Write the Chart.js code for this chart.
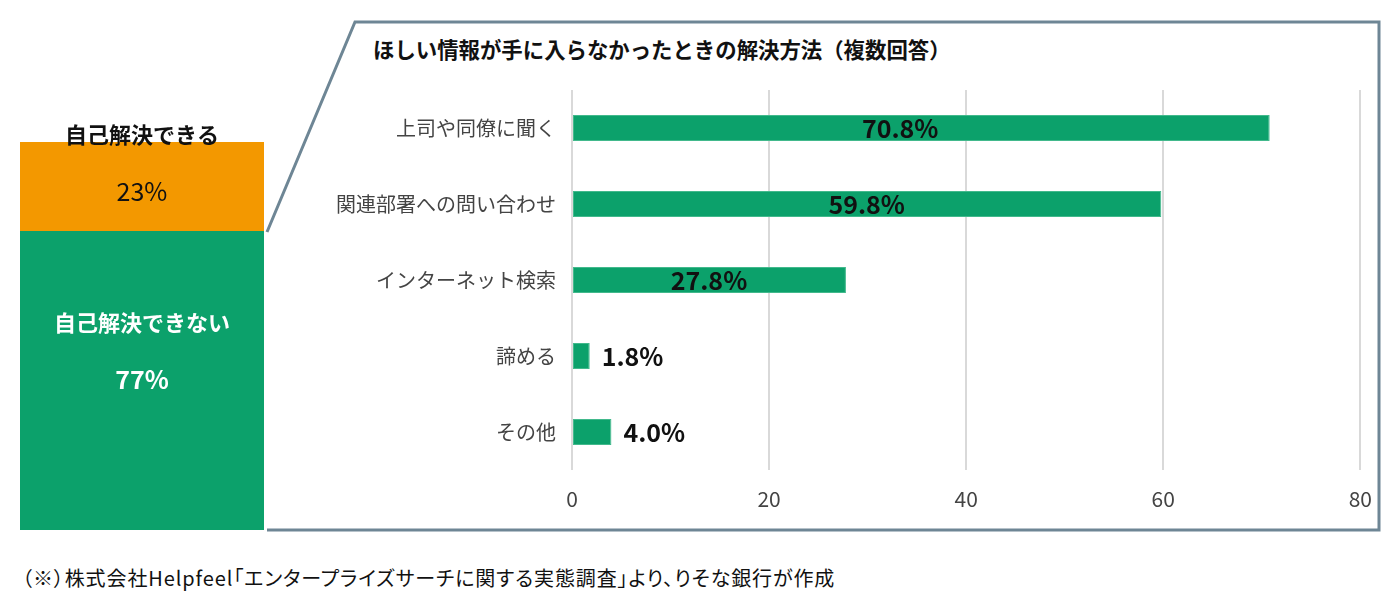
<!DOCTYPE html>
<html>
<head>
<meta charset="utf-8">
<script src="https://cdn.jsdelivr.net/npm/chart.js@4.4.0/dist/chart.umd.min.js"></script>
<style>
  body { margin:0; background:#fff; width:1400px; height:598px; position:relative; overflow:hidden;
         font-family:"Noto Sans CJK JP","Noto Sans",sans-serif; }
  #leftBox { position:absolute; left:20px; top:110px; width:244px; height:420px; }
  #rightBox { position:absolute; left:270px; top:70px; width:1118px; height:450px; }
  #title { position:absolute; left:373px; top:33px; font-size:21.4px; font-weight:bold; color:#111; white-space:nowrap; }
  #note { position:absolute; left:22px; top:563px; font-size:20px; letter-spacing:0.9px; color:#111; white-space:nowrap;
          font-feature-settings:"palt"; }
  svg { position:absolute; left:0; top:0; }
</style>
</head>
<body>
<svg width="1400" height="598">
  <polyline points="267,232 355,22 1379,22 1379,530 267,530" fill="none" stroke="#6e8695" stroke-width="3"/>
</svg>
<div id="title">ほしい情報が手に入らなかったときの解決方法（複数回答）</div>
<div id="leftBox"><canvas id="leftChart"></canvas></div>
<div id="rightBox"><canvas id="rightChart"></canvas></div>
<div id="note">（※）株式会社Helpfeel「エンタープライズサーチに関する実態調査」より、りそな銀行が作成</div>
<script>
// left column: share of people who could solve it themselves
var splitLabels = ['自己解決できない', '自己解決できる'];
var splitValues = [77, 23];

// right chart: how they solved it (multiple answers)
var categories = ['上司や同僚に聞く', '関連部署への問い合わせ', 'インターネット検索', '諦める', 'その他'];
var shares = [70.8, 59.8, 27.8, 1.8, 4.0];
var xTicks = [0, 20, 40, 60, 80];

var GREEN = '#0ca16b';
var ORANGE = '#f39800';
var JP = '"Noto Sans CJK JP", "Noto Sans", sans-serif';

var leftLabels = {
    id: 'leftLabels',
    afterDatasetsDraw: function(chart) {
        var ctx = chart.ctx;
        var low = chart.getDatasetMeta(0).data[0];
        var high = chart.getDatasetMeta(1).data[0];
        ctx.save();
        ctx.textAlign = 'center';
        ctx.textBaseline = 'middle';
        // top label sits on the orange block's upper edge
        ctx.fillStyle = '#111';
        ctx.font = 'bold 22px ' + JP;
        ctx.fillText(splitLabels[1], high.x, high.y - 7);
        ctx.font = '25px ' + JP;
        ctx.fillText(splitValues[1] + '%', high.x, (high.y + high.base) / 2 + 5);
        // green block
        var mid = (low.y + low.base) / 2;
        ctx.fillStyle = '#fff';
        ctx.font = 'bold 22px ' + JP;
        ctx.fillText(splitLabels[0], low.x, mid - 58);
        ctx.font = 'bold 25px ' + JP;
        ctx.fillText(splitValues[0] + '%', low.x, mid - 1);
        ctx.restore();
    }
};

new Chart(document.getElementById('leftChart'), {
    type: 'bar',
    data: {
        labels: [''],
        datasets: [
            { label: splitLabels[0], data: [splitValues[0]], backgroundColor: GREEN, borderWidth: 0 },
            { label: splitLabels[1], data: [splitValues[1]], backgroundColor: ORANGE, borderWidth: 0 }
        ]
    },
    options: {
        responsive: true,
        maintainAspectRatio: false,
        animation: false,
        layout: { padding: { top: 32, bottom: 0, left: 0, right: 0 } },
        plugins: { legend: { display: false }, tooltip: { enabled: false } },
        scales: {
            x: { stacked: true, display: false },
            y: { stacked: true, display: false, min: 0, max: 100 }
        },
        datasets: { bar: { barPercentage: 1, categoryPercentage: 1 } }
    },
    plugins: [leftLabels]
});

var barLabels = {
    id: 'barLabels',
    afterDatasetsDraw: function(chart) {
        var ctx = chart.ctx;
        var xs = chart.scales.x;
        var meta = chart.getDatasetMeta(0);
        ctx.save();
        ctx.fillStyle = '#111';
        ctx.font = 'bold 25px ' + JP;
        ctx.textBaseline = 'middle';
        meta.data.forEach(function(bar, i) {
            var v = shares[i];
            var txt = v.toFixed(1) + '%';
            if (v >= 10) {
                ctx.textAlign = 'center';
                ctx.fillText(txt, xs.getPixelForValue(Math.min(v / 2, 33.3)), bar.y);
            } else {
                ctx.textAlign = 'left';
                ctx.fillText(txt, bar.x + 12, bar.y);
            }
        });
        ctx.restore();
    }
};

new Chart(document.getElementById('rightChart'), {
    type: 'bar',
    data: {
        labels: categories,
        datasets: [{
            data: shares,
            backgroundColor: GREEN,
            borderColor: '#42b98c',
            borderWidth: 1,
            borderSkipped: false,
            barPercentage: 0.34,
            categoryPercentage: 1
        }]
    },
    options: {
        indexAxis: 'y',
        responsive: true,
        maintainAspectRatio: false,
        animation: false,
        layout: { padding: { top: 0, bottom: 0, left: 0, right: 8 } },
        plugins: { legend: { display: false }, tooltip: { enabled: false } },
        scales: {
            x: {
                min: xTicks[0],
                max: xTicks[xTicks.length - 1],
                ticks: { stepSize: xTicks[1] - xTicks[0], color: '#444', font: { size: 21, family: JP }, padding: 16 },
                grid: { color: '#d9d9d9', lineWidth: 2, drawTicks: false },
                border: { display: false },
                afterFit: function(scale) { scale.height = 50; }
            },
            y: {
                ticks: { color: '#444', font: { size: 20, family: JP }, padding: 8 },
                grid: { display: false },
                border: { display: false },
                afterFit: function(scale) { scale.width = 302; }
            }
        }
    },
    plugins: [barLabels]
});
</script>
</body>
</html>
